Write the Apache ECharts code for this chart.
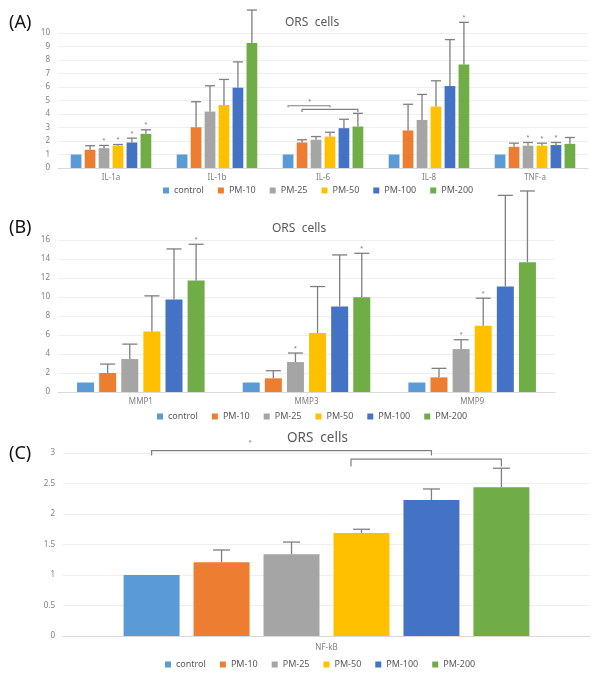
<!DOCTYPE html>
<html>
<head>
<meta charset="utf-8">
<script src="https://cdn.jsdelivr.net/npm/echarts@6/dist/echarts.min.js"></script>
<style>html,body{margin:0;padding:0;background:#fff}#c{width:600px;height:677px}</style>
</head>
<body>
<div id="c"></div>
<script>
// ---------- data ----------
const GROUPS = ['control', 'PM-10', 'PM-25', 'PM-50', 'PM-100', 'PM-200'];
const CATS_A = ['IL-1a', 'IL-1b', 'IL-6', 'IL-8', 'TNF-a'];
const CATS_B = ['MMP1', 'MMP3', 'MMP9'];
const CATS_C = ['NF-kB'];

// panel A means (rows = groups, cols = categories)
const A_MEAN = [
  [1, 1, 1, 1, 1],
  [1.35, 3.02, 1.89, 2.78, 1.57],
  [1.47, 4.18, 2.09, 3.56, 1.65],
  [1.65, 4.67, 2.33, 4.55, 1.65],
  [1.89, 5.95, 2.95, 6.07, 1.70],
  [2.53, 9.26, 3.07, 7.67, 1.79]
];
const A_ERR = [
  [0, 0, 0, 0, 0],
  [0.30, 1.89, 0.20, 1.94, 0.27],
  [0.20, 1.91, 0.24, 1.89, 0.24],
  [0.09, 1.89, 0.32, 1.91, 0.19],
  [0.32, 1.91, 0.66, 3.44, 0.19],
  [0.30, 2.44, 0.98, 3.12, 0.47]
];
const A_SIG = [
  [0, 0, 0, 0, 0],
  [0, 0, 0, 0, 0],
  [1, 0, 0, 0, 1],
  [1, 0, 0, 0, 1],
  [1, 0, 0, 0, 1],
  [1, 0, 0, 1, 0]
];
// [category, fromBar, toBar, lineValue, legEndValue]
const A_BRACKETS = [[2, 0, 3, 4.61, 4.50], [2, 1, 5, 4.35, 4.15]];
// [category, barPosition, value]
const A_BRACKET_STARS = [[2, 1.54, 4.96]];

const B_MEAN = [
  [1, 1, 1],
  [2.0, 1.44, 1.54],
  [3.47, 3.15, 4.52],
  [6.37, 6.2, 6.97],
  [9.73, 9.0, 11.1],
  [11.73, 9.98, 13.66]
];
const B_ERR = [
  [0, 0, 0],
  [0.94, 0.80, 0.95],
  [1.57, 0.95, 0.98],
  [3.75, 4.9, 2.90],
  [5.33, 5.43, 9.6],
  [3.82, 4.62, 7.5]
];
const B_SIG = [
  [0, 0, 0],
  [0, 0, 0],
  [0, 1, 1],
  [0, 0, 1],
  [0, 0, 0],
  [1, 1, 0]
];

const C_MEAN = [[1], [1.21], [1.34], [1.69], [2.23], [2.44]];
const C_ERR = [[0], [0.20], [0.20], [0.06], [0.18], [0.31]];
const C_SIG = [[0], [0], [0], [0], [0], [0]];
const C_BRACKETS = [[0, 0, 4, 3.04, 2.96], [0, 2.85, 5, 2.90, 2.78]];
const C_BRACKET_STARS = [[0, 1.41, 3.17]];

// ---------- style ----------
const COLORS = ['#5B9BD5', '#ED7D31', '#A5A5A5', '#FFC000', '#4472C4', '#70AD47'];
const FONT = 'Noto Sans';
const GRAY_TXT = '#7f7f7f';
const ERR_COL = '#7f7f7f';

const PANELS = [
  { cats: CATS_A, mean: A_MEAN, err: A_ERR, sig: A_SIG, br: A_BRACKETS, brs: A_BRACKET_STARS,
    catGap: 0.24, gap: 0.30, cap: 10, min: 0, max: 10, interval: 1,
    grid: { left: 58, right: 12, top: 33, bottom: 509 }, legendLeft: 158, legendTop: 181, labelMargin: 6 },
  { cats: CATS_B, mean: B_MEAN, err: B_ERR, sig: B_SIG, br: [], brs: [],
    catGap: 0.23, gap: 0.30, cap: 15, min: 0, max: 16, interval: 2,
    grid: { left: 58, right: 45, top: 240, bottom: 285 }, legendLeft: 152, legendTop: 407, labelMargin: 6 },
  { cats: CATS_C, mean: C_MEAN, err: C_ERR, sig: C_SIG, br: C_BRACKETS, brs: C_BRACKET_STARS,
    catGap: 0.23, gap: 0.25, cap: 17, min: 0, max: 3, interval: 0.5,
    grid: { left: 63, right: 10, top: 453, bottom: 41 }, legendLeft: 160, legendTop: 655, labelMargin: 8 }
];

function barX(api, cat, pos, catGap, gap) {
  const band = api.size([1, 0])[0];
  const inner = band * (1 - catGap);
  const bw = inner / (GROUPS.length + (GROUPS.length - 1) * gap);
  return api.coord([cat, 0])[0] - inner / 2 + pos * bw * (1 + gap) + bw / 2;
}

const option = {
  animation: false,
  backgroundColor: '#fff',
  textStyle: { fontFamily: FONT },
  title: [
    { text: '(A)', left: 4, top: 9, textStyle: { fontSize: 18, fontWeight: 'normal', color: '#111', fontFamily: FONT } },
    { text: '(B)', left: 4, top: 214, textStyle: { fontSize: 18, fontWeight: 'normal', color: '#111', fontFamily: FONT } },
    { text: '(C)', left: 4, top: 440, textStyle: { fontSize: 18, fontWeight: 'normal', color: '#111', fontFamily: FONT } },
    { text: 'ORS  cells', left: 280, top: 12, textStyle: { fontSize: 12, fontWeight: 'normal', color: '#595959', fontFamily: FONT } },
    { text: 'ORS  cells', left: 267, top: 218, textStyle: { fontSize: 12, fontWeight: 'normal', color: '#595959', fontFamily: FONT } },
    { text: 'ORS  cells', left: 282, top: 426, textStyle: { fontSize: 13.5, fontWeight: 'normal', color: '#595959', fontFamily: FONT } }
  ],
  grid: PANELS.map(p => p.grid),
  legend: PANELS.map(p => ({
    data: GROUPS, left: p.legendLeft, top: p.legendTop, icon: 'rect', itemWidth: 6, itemHeight: 6, itemGap: 14,
    textStyle: { fontSize: 9, color: '#595959', fontFamily: FONT }
  })),
  xAxis: PANELS.map((p, i) => ({
    type: 'category', gridIndex: i, data: p.cats,
    axisTick: { show: false },
    axisLine: { lineStyle: { color: '#d9d9d9' } },
    axisLabel: { fontSize: 8, color: GRAY_TXT, margin: p.labelMargin, fontFamily: FONT }
  })),
  yAxis: PANELS.map((p, i) => ({
    type: 'value', gridIndex: i, min: p.min, max: p.max, interval: p.interval,
    axisLine: { show: false }, axisTick: { show: false },
    splitLine: { lineStyle: { color: '#efefef' } },
    axisLabel: { fontSize: 8, color: GRAY_TXT, margin: 8, fontFamily: FONT }
  })),
  series: []
};

PANELS.forEach((p, pi) => {
  GROUPS.forEach((g, gi) => {
    option.series.push({
      type: 'bar', name: g, xAxisIndex: pi, yAxisIndex: pi,
      data: p.mean[gi],
      itemStyle: { color: COLORS[gi] },
      barGap: (p.gap * 100) + '%', barCategoryGap: (p.catGap * 100) + '%'
    });
  });
  // error bars
  const errData = [];
  GROUPS.forEach((g, gi) => {
    p.cats.forEach((c, ci) => {
      if (p.err[gi][ci] > 0) errData.push([ci, gi, p.mean[gi][ci], p.err[gi][ci], p.sig[gi][ci]]);
    });
  });
  option.series.push({
    type: 'custom', xAxisIndex: pi, yAxisIndex: pi, clip: false, silent: true, z: 5,
    encode: { x: 0, y: 2 },
    data: errData,
    renderItem: (params, api) => {
      const cat = api.value(0), gi = api.value(1), m = api.value(2), e = api.value(3), s = api.value(4);
      const x = barX(api, cat, gi, p.catGap, p.gap);
      const y0 = api.coord([cat, m])[1];
      const y1 = api.coord([cat, m + e])[1];
      const st = { stroke: ERR_COL, lineWidth: 1.3 };
      const ch = [
        { type: 'line', shape: { x1: x, y1: y0, x2: x, y2: y1 }, style: st },
        { type: 'line', shape: { x1: x - p.cap / 2, y1: y1, x2: x + p.cap / 2, y2: y1 }, style: st }
      ];
      if (s) ch.push({ type: 'text', x: x, y: y1 - 2, style: { text: '*', fill: '#777', fontSize: 6, fontFamily: FONT, align: 'center', verticalAlign: 'bottom' } });
      return { type: 'group', children: ch };
    }
  });
  if (p.br.length) {
    option.series.push({
      type: 'custom', xAxisIndex: pi, yAxisIndex: pi, clip: false, silent: true, z: 6,
      encode: { x: 0, y: 3 },
      data: p.br,
      renderItem: (params, api) => {
        const cat = api.value(0), f = api.value(1), t = api.value(2), v = api.value(3), lv = api.value(4);
        const xa = barX(api, cat, f, p.catGap, p.gap);
        const xb = barX(api, cat, t, p.catGap, p.gap);
        const y = api.coord([cat, v])[1];
        const yl = api.coord([cat, lv])[1];
        return {
          type: 'polyline',
          shape: { points: [[xa, yl], [xa, y], [xb, y], [xb, yl]] },
          style: { stroke: '#808080', lineWidth: 1.2, fill: null }
        };
      }
    });
    option.series.push({
      type: 'custom', xAxisIndex: pi, yAxisIndex: pi, clip: false, silent: true, z: 6,
      encode: { x: 0, y: 2 },
      data: p.brs,
      renderItem: (params, api) => {
        const cat = api.value(0), pos = api.value(1), v = api.value(2);
        const x = barX(api, cat, pos, p.catGap, p.gap);
        const y = api.coord([cat, v])[1];
        return { type: 'text', x: x, y: y, style: { text: '*', fill: '#777', fontSize: 6, fontFamily: FONT, align: 'center', verticalAlign: 'middle' } };
      }
    });
  }
});

const chart = echarts.init(document.getElementById('c'), null, { renderer: 'canvas' });
chart.setOption(option);
</script>
</body>
</html>
